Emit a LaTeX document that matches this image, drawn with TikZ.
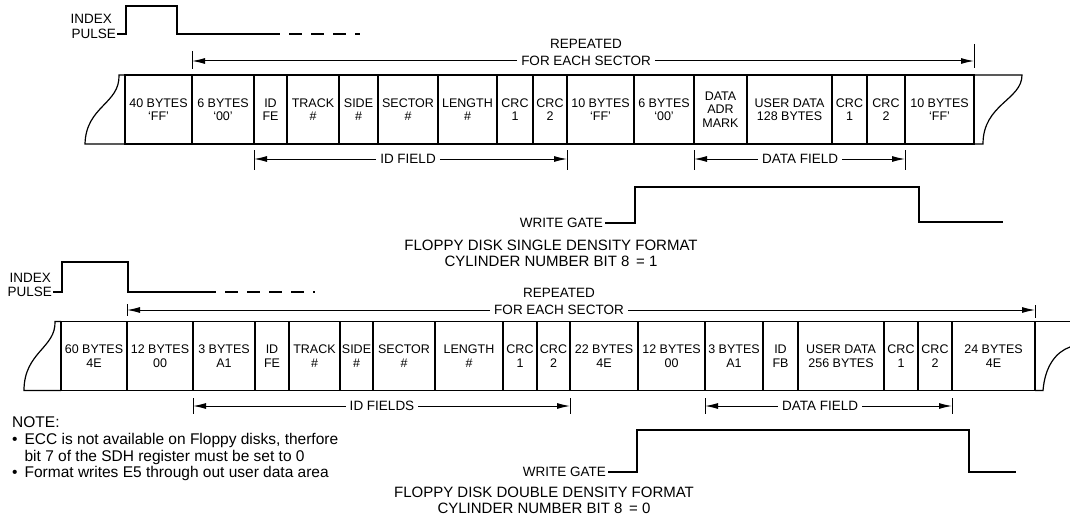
\documentclass[tikz,border=0pt]{standalone}
\usepackage{fontspec}
\setmainfont{Liberation Sans}
\usetikzlibrary{positioning,arrows.meta}

\begin{document}
\begin{tikzpicture}[x=1pt,y=-1pt]
\tikzstyle{cell}=[draw,line width=1.2pt,minimum height=69pt,inner sep=1pt,outer sep=0pt,align=center,font=\fontsize{12.5}{13.5}\selectfont]
\tikzstyle{lbl}=[inner sep=4pt,align=center,font=\fontsize{13.5}{16}\selectfont]
\tikzstyle{title}=[align=center,font=\fontsize{15}{16}\selectfont]
\tikzstyle{wave}=[line width=1.2pt]
\tikzstyle{span}=[line width=1pt,-{Latex[length=13pt,width=6pt]}]
\tikzstyle{tick}=[line width=1pt]
\useasboundingbox (0,0) rectangle (1070,516);

% single density
\node[lbl,anchor=east,inner sep=1pt] (sindex) at (113,19) {INDEX};
\node[lbl,anchor=east,inner sep=1pt] (spulse) at (117,34) {PULSE};
\draw[wave] (spulse.east) -- (126,34) -- (126,6) -- (177,6) -- (177,34) -- (267,34);
\draw[wave,dash pattern=on 13pt off 9pt] (267,34) -- (360,34);

\node[cell,minimum width=67pt] (sgap1) at (158.5,109.5) {40 BYTES\\`FF'};
\node[cell,minimum width=62pt,right=0pt of sgap1] (ssync1) {6 BYTES\\`00'};
\node[cell,minimum width=33pt,right=0pt of ssync1] (sidam) {ID\\FE};
\node[cell,minimum width=52pt,right=0pt of sidam] (strack) {TRACK\\\#};
\node[cell,minimum width=39pt,right=0pt of strack] (sside) {SIDE\\\#};
\node[cell,minimum width=60pt,right=0pt of sside] (ssector) {SECTOR\\\#};
\node[cell,minimum width=59pt,right=0pt of ssector] (slength) {LENGTH\\\#};
\node[cell,minimum width=36pt,right=0pt of slength] (scrca) {CRC\\1};
\node[cell,minimum width=34pt,right=0pt of scrca] (scrcb) {CRC\\2};
\node[cell,minimum width=67pt,right=0pt of scrcb] (sgap2) {10 BYTES\\`FF'};
\node[cell,minimum width=60pt,right=0pt of sgap2] (ssync2) {6 BYTES\\`00'};
\node[cell,minimum width=53pt,right=0pt of ssync2] (sdam) {DATA\\ADR\\MARK};
\node[cell,minimum width=85pt,right=0pt of sdam] (sdata) {USER DATA\\128 BYTES};
\node[cell,minimum width=35pt,right=0pt of sdata] (sdcrca) {CRC\\1};
\node[cell,minimum width=38pt,right=0pt of sdcrca] (sdcrcb) {CRC\\2};
\node[cell,minimum width=69pt,right=0pt of sdcrcb] (sgap3) {10 BYTES\\`FF'};

% torn ends
\draw[wave] (sgap1.north west) -- (119,75) .. controls (120,104) and (86,106) .. (85,144) -- (sgap1.south west);
\draw[wave] (sgap3.north east) -- (1022,75) .. controls (1022,100) and (983,104) .. (983,144) -- (sgap3.south east);

\node[lbl] (srep) at (586,44) {REPEATED};
\node[lbl] (sfor) at (586,61) {FOR EACH SECTOR};
\coordinate (srepL) at (ssync1.west |- sfor);
\coordinate (srepR) at (sgap3.east |- sfor);
\draw[span] (sfor.west) -- (srepL);
\draw[span] (sfor.east) -- (srepR);
\draw[tick] (srepL) ++(0,-10) -- ++(0,18);
\draw[tick] (srepR) ++(0,-17) -- ++(0,24);

\node[lbl] (sidf) at (408,159) {ID FIELD};
\coordinate (sidL) at (sidam.west |- sidf);
\coordinate (sidR) at (scrcb.east |- sidf);
\draw[span] (sidf.west) -- (sidL);
\draw[span] (sidf.east) -- (sidR);
\draw[tick] (sidL) ++(0,-9) -- ++(0,20);
\draw[tick] (sidR) ++(0,-9) -- ++(0,20);

\node[lbl] (sdf) at (800,159) {DATA FIELD};
\coordinate (sdfL) at (sdam.west |- sdf);
\coordinate (sdfR) at (sdcrcb.east |- sdf);
\draw[span] (sdf.west) -- (sdfL);
\draw[span] (sdf.east) -- (sdfR);
\draw[tick] (sdfL) ++(0,-9) -- ++(0,20);
\draw[tick] (sdfR) ++(0,-9) -- ++(0,20);

\node[lbl,anchor=east,inner sep=2pt] (swg) at (605,223) {WRITE GATE};
\draw[wave] (swg.east) -- (635,223) -- (635,187) -- (919,187) -- (919,222) -- (1003,222);

\node[title] (stitle) at (551,253.5) {FLOPPY DISK SINGLE DENSITY FORMAT\\CYLINDER NUMBER BIT 8 \,= 1};

% double density
\node[lbl,anchor=east,inner sep=1pt] (dindex) at (52,278) {INDEX};
\node[lbl,anchor=east,inner sep=1pt] (dpulse) at (53,292) {PULSE};
\draw[wave] (dpulse.east) -- (62,292) -- (62,262) -- (128,262) -- (128,292) -- (203,292);
\draw[wave,dash pattern=on 13pt off 9pt] (203,292) -- (315,292);

\node[cell,minimum width=66pt] (dgap1) at (94,356) {60 BYTES\\4E};
\node[cell,minimum width=66pt,right=0pt of dgap1] (dsync1) {12 BYTES\\00};
\node[cell,minimum width=62pt,right=0pt of dsync1] (dmark1) {3 BYTES\\A1};
\node[cell,minimum width=34pt,right=0pt of dmark1] (didam) {ID\\FE};
\node[cell,minimum width=51pt,right=0pt of didam] (dtrack) {TRACK\\\#};
\node[cell,minimum width=33pt,right=0pt of dtrack] (dside) {SIDE\\\#};
\node[cell,minimum width=62pt,right=0pt of dside] (dsector) {SECTOR\\\#};
\node[cell,minimum width=68pt,right=0pt of dsector] (dlength) {LENGTH\\\#};
\node[cell,minimum width=34pt,right=0pt of dlength] (dcrca) {CRC\\1};
\node[cell,minimum width=33pt,right=0pt of dcrca] (dcrcb) {CRC\\2};
\node[cell,minimum width=68pt,right=0pt of dcrcb] (dgap2) {22 BYTES\\4E};
\node[cell,minimum width=67pt,right=0pt of dgap2] (dsync2) {12 BYTES\\00};
\node[cell,minimum width=58pt,right=0pt of dsync2] (dmark2) {3 BYTES\\A1};
\node[cell,minimum width=35pt,right=0pt of dmark2] (ddam) {ID\\FB};
\node[cell,minimum width=86pt,right=0pt of ddam] (ddata) {USER DATA\\256 BYTES};
\node[cell,minimum width=34pt,right=0pt of ddata] (ddcrca) {CRC\\1};
\node[cell,minimum width=34pt,right=0pt of ddcrca] (ddcrcb) {CRC\\2};
\node[cell,minimum width=83pt,right=0pt of ddcrcb] (dgap3) {24 BYTES\\4E};

% torn ends
\draw[wave] (dgap1.north west) -- (55,321.5) .. controls (56,348) and (24,352) .. (24,390.5) -- (dgap1.south west);
\draw[wave] (dgap3.north east) -- (1070,321.5);
\draw[wave] (dgap3.south east) -- (1043,390.5) .. controls (1045,366) and (1056,352) .. (1070,347);

\node[lbl] (drep) at (559,293) {REPEATED};
\node[lbl] (dfor) at (559,310) {FOR EACH SECTOR};
\coordinate (drepL) at (dsync1.west |- dfor);
\coordinate (drepR) at (dgap3.east |- dfor);
\draw[span] (dfor.west) -- (drepL);
\draw[span] (dfor.east) -- (drepR);
\draw[tick] (drepL) ++(0,-6) -- ++(0,12);
\draw[tick] (drepR) ++(0,-5) -- ++(0,13);

\node[lbl] (didf) at (382,406) {ID FIELDS};
\coordinate (didL) at (dmark1.west |- didf);
\coordinate (didR) at (dcrcb.east |- didf);
\draw[span] (didf.west) -- (didL);
\draw[span] (didf.east) -- (didR);
\draw[tick] (didL) ++(0,-8) -- ++(0,16);
\draw[tick] (didR) ++(0,-8) -- ++(0,16);

\node[lbl] (ddf) at (820,406) {DATA FIELD};
\coordinate (ddfL) at (dmark2.west |- ddf);
\coordinate (ddfR) at (ddcrcb.east |- ddf);
\draw[span] (ddf.west) -- (ddfL);
\draw[span] (ddf.east) -- (ddfR);
\draw[tick] (ddfL) ++(0,-8) -- ++(0,16);
\draw[tick] (ddfR) ++(0,-8) -- ++(0,16);

\node[lbl,anchor=east,inner sep=2pt] (dwg) at (608,472) {WRITE GATE};
\draw[wave] (dwg.east) -- (637,472) -- (637,430) -- (969,430) -- (969,472) -- (1016,472);

\node[title] (dtitle) at (544,500) {FLOPPY DISK DOUBLE DENSITY FORMAT\\CYLINDER NUMBER BIT 8 \,= 0};

% notes
\node[anchor=north west,inner sep=0pt,font=\fontsize{15.5}{16.7}\selectfont] (notes) at (12,416) {%
\begin{tabular}{@{}l@{\hspace{7pt}}l@{}}
\multicolumn{2}{@{}l}{NOTE:}\\
\textbullet & ECC is not available on Floppy disks, therfore\\
 & bit 7 of the SDH register must be set to 0\\
\textbullet & Format writes E5 through out user data area
\end{tabular}};
\end{tikzpicture}
\end{document}
